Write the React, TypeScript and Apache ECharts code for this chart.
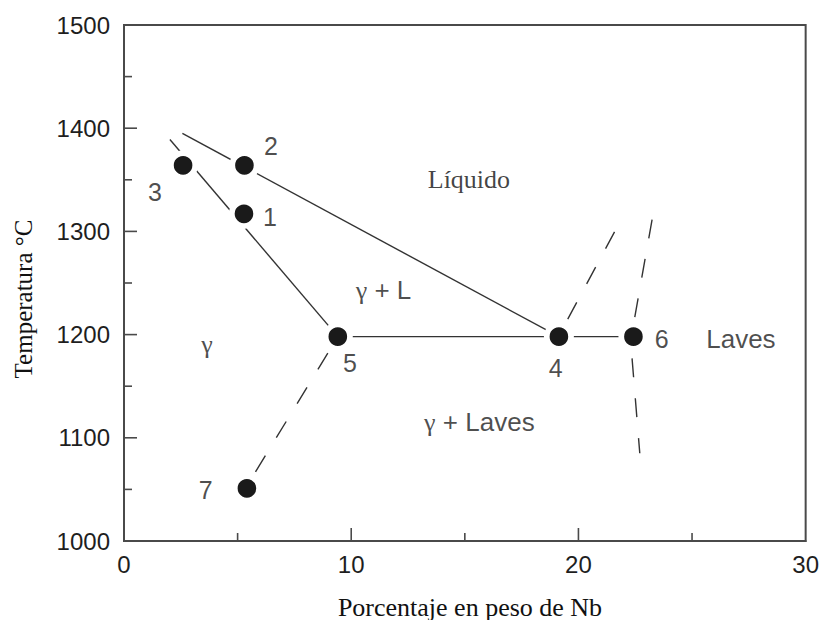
import React, { useEffect, useRef } from "react";
import * as echarts from "echarts";

// Axis ranges / ticks
const xRange = [0, 30];
const xInterval = 10;
const yRange = [1000, 1500];
const yInterval = 100;
const xMajorTicks = [10, 20];
const yMajorTicks = [1100, 1200, 1300, 1400];
const xMinorTicks = [5, 15, 25];
const yMinorTicks = [1050, 1150, 1250, 1350, 1450];

// Marked points (wt% Nb, °C)
const pointNames = ["1", "2", "3", "4", "5", "6", "7"];
const pointX = [5.28, 5.3, 2.6, 19.14, 9.41, 22.42, 5.41];
const pointY = [1317, 1364, 1364, 1198, 1198, 1198, 1051];

// Point number labels positions
const numLabelX = [6.42, 6.47, 1.36, 19.0, 9.94, 23.67, 3.6];
const numLabelY = [1314, 1383, 1338, 1168, 1172, 1196, 1049];

// Solid phase boundaries
const liquidusLine = [[2.57, 1395], [19.14, 1198]];
const solidusLine = [[2.02, 1389], [9.41, 1198]];
const eutecticLine = [[9.41, 1198], [22.42, 1198]];

// Dashed phase boundaries
const dashed57 = [[8.97, 1182], [5.76, 1066]];
const dashed4Up = [[19.53, 1215], [21.6, 1300]];
const dashed6Up = [[22.48, 1217], [23.27, 1315]];
const dashed6Down = [[22.36, 1177], [22.7, 1085]];

// Region labels
const regionTexts = ["{t|Líquido}", "{g|γ}{s| + L}", "{g|γ}", "{g|γ}{s| + Laves}", "{s|Laves}"];
const regionX = [15.18, 11.42, 3.65, 15.64, 27.15];
const regionY = [1350, 1243, 1190, 1115, 1196];

const xName = "Porcentaje en peso de Nb";
const yName = "Temperatura °C";

const LINE_COLOR = "#333";
const TEXT_COLOR = "#1e1e1e";
const AXIS_COLOR = "#4a4a4a";
const SANS = "'Liberation Sans', Arial, sans-serif";
const SERIF = "'Liberation Serif', 'Times New Roman', serif";
const MAJOR_TICK_LEN = 13;
const MINOR_TICK_LEN = 8;

export default function App() {
  const ref = useRef<HTMLDivElement>(null);

  useEffect(() => {
    if (!ref.current) return;
    const chart = echarts.init(ref.current, undefined, { renderer: "svg" });

    const solid = (data: number[][]) => ({
      type: "line",
      data,
      symbol: "none",
      silent: true,
      z: 1,
      lineStyle: { color: LINE_COLOR, width: 1.4 },
    });
    const dashed = (data: number[][]) => ({
      type: "line",
      data,
      symbol: "none",
      silent: true,
      z: 1,
      lineStyle: { color: LINE_COLOR, width: 1.4, type: [19, 21] },
    });

    // ticks drawn through the axis scales: [x, y, orientation(0 = x-axis, 1 = y-axis), major(1)/minor(0)]
    const tickData: number[][] = [
      ...xMajorTicks.map((v) => [v, yRange[0], 0, 1]),
      ...yMajorTicks.map((v) => [xRange[0], v, 1, 1]),
      ...xMinorTicks.map((v) => [v, yRange[0], 0, 0]),
      ...yMinorTicks.map((v) => [xRange[0], v, 1, 0]),
    ];

    const axisCommon = {
      type: "value",
      axisLine: { show: true, lineStyle: { color: AXIS_COLOR, width: 2 } },
      axisTick: { show: false },
      minorTick: { show: false },
      splitLine: { show: false },
    };

    const option: any = {
      animation: false,
      backgroundColor: "#fff",
      grid: {
        left: 124,
        right: 16,
        top: 25,
        bottom: 79,
        show: true,
        borderColor: AXIS_COLOR,
        borderWidth: 2,
      },
      xAxis: {
        ...axisCommon,
        position: "bottom",
        min: xRange[0],
        max: xRange[1],
        interval: xInterval,
        axisLabel: { color: TEXT_COLOR, fontFamily: SANS, fontSize: 24, margin: 11, formatter: (v: number) => String(v) },
      },
      yAxis: {
        ...axisCommon,
        position: "left",
        min: yRange[0],
        max: yRange[1],
        interval: yInterval,
        axisLabel: { color: TEXT_COLOR, fontFamily: SANS, fontSize: 24, margin: 14, formatter: (v: number) => String(v) },
      },
      graphic: [
        {
          type: "text",
          x: 470,
          y: 607,
          style: {
            text: xName,
            font: `26px ${SERIF}`,
            fill: "#111",
            align: "center",
            verticalAlign: "middle",
          },
        },
        {
          type: "text",
          x: 23,
          y: 299,
          rotation: Math.PI / 2,
          style: {
            text: yName,
            font: `25px ${SERIF}`,
            fill: "#111",
            align: "center",
            verticalAlign: "middle",
          },
        },
      ],
      series: [
        {
          type: "custom",
          silent: true,
          clip: false,
          z: 5,
          data: tickData,
          renderItem: (params: any, api: any) => {
            const p = api.coord([api.value(0), api.value(1)]);
            const horizontal = api.value(2) === 1;
            const len = api.value(3) === 1 ? MAJOR_TICK_LEN : MINOR_TICK_LEN;
            return {
              type: "line",
              shape: horizontal
                ? { x1: p[0], y1: p[1], x2: p[0] + len, y2: p[1] }
                : { x1: p[0], y1: p[1], x2: p[0], y2: p[1] - len },
              style: { stroke: AXIS_COLOR, lineWidth: 1.6 },
            };
          },
        },
        solid(liquidusLine),
        solid(solidusLine),
        solid(eutecticLine),
        dashed(dashed57),
        dashed(dashed4Up),
        dashed(dashed6Up),
        dashed(dashed6Down),
        {
          type: "scatter",
          silent: true,
          z: 3,
          symbol: "circle",
          symbolSize: 24.3,
          itemStyle: { color: "#1a1a1a", borderColor: "#fff", borderWidth: 5.7, opacity: 1 },
          data: pointNames.map((n, i) => ({ name: n, value: [pointX[i], pointY[i]] })),
        },
        {
          type: "scatter",
          silent: true,
          z: 4,
          symbolSize: 1,
          itemStyle: { color: "rgba(0,0,0,0)" },
          label: {
            show: true,
            position: "inside",
            formatter: (p: any) => p.name,
            color: TEXT_COLOR,
            fontFamily: SANS,
            fontSize: 25,
          },
          data: pointNames.map((n, i) => ({ name: n, value: [numLabelX[i], numLabelY[i]] })),
        },
        {
          type: "scatter",
          silent: true,
          z: 4,
          symbolSize: 1,
          itemStyle: { color: "rgba(0,0,0,0)" },
          label: {
            show: true,
            position: "inside",
            formatter: (p: any) => p.name,
            color: TEXT_COLOR,
            fontFamily: SANS,
            fontSize: 26,
            rich: {
              t: { fontFamily: SERIF, fontSize: 26, color: "#111" },
              g: { fontFamily: SERIF, fontSize: 26, color: TEXT_COLOR },
              s: { fontFamily: SANS, fontSize: 26, color: TEXT_COLOR },
            },
          },
          data: regionTexts.map((t, i) => ({ name: t, value: [regionX[i], regionY[i]] })),
        },
      ],
    };

    chart.setOption(option);
    return () => chart.dispose();
  }, []);

  return (
    <div
      ref={ref}
      style={{ position: "fixed", left: 0, top: 0, width: 822, height: 620, background: "#fff" }}
    />
  );
}
